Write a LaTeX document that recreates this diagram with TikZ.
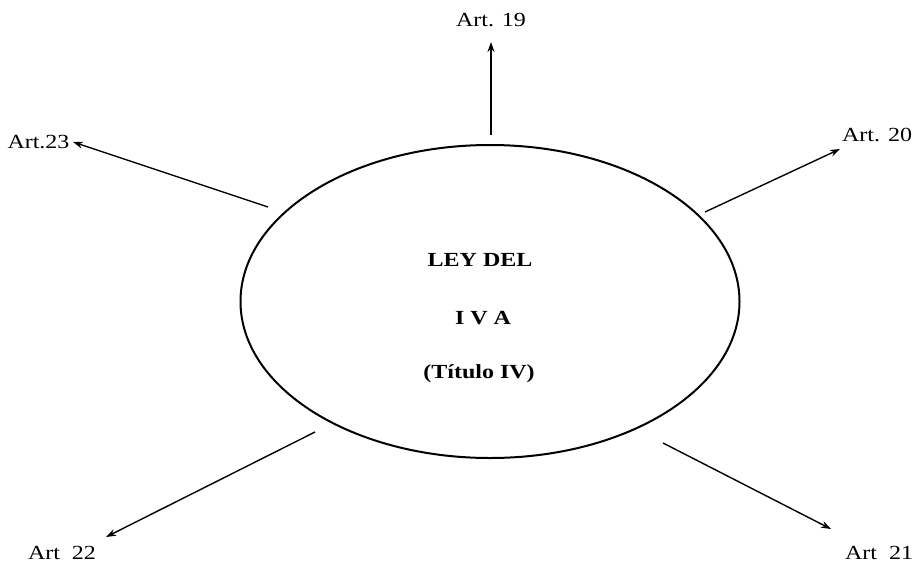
\documentclass[tikz,border=0pt]{standalone}
\usepackage{fontspec}
\setmainfont[FakeStretch=1.2]{Liberation Serif}
\usetikzlibrary{shapes.geometric,arrows.meta}
\begin{document}
\begin{tikzpicture}[x=1pt,y=-1pt,
  lbl/.style={inner sep=0pt,font=\fontsize{20pt}{24pt}\selectfont},
  bold/.style={lbl,font=\fontsize{20pt}{24pt}\selectfont\bfseries},
  conn/.style={line width=1.4pt,-{Stealth[length=10pt,width=7pt]}},
  oval/.style={ellipse,draw,line width=2pt,minimum width=499pt,minimum height=313pt,inner sep=0pt}]
\useasboundingbox (0,0) rectangle (917,562);
\node[oval] (ley) at (490,301.5) {};
\node[bold] (t1) at (480,260) {LEY DEL};
\node[bold] (t2) at (483,318) {I V A};
\node[bold] (t3) at (479,374) {(Título IV)};
\node[lbl] (a19) at (491,20) {Art. 19};
\node[lbl] (a23) at (38.5,142) {Art.23};
\node[lbl] (a20) at (877,135) {Art. 20};
\node[lbl] (a22) at (62,553) {Art\ \ 22};
\node[lbl] (a21) at (879,553) {Art\ \ 21};
\coordinate (s19) at (491,135);
\coordinate (e19) at (491,42);
\coordinate (s23) at (268,207);
\coordinate (e23) at (73,142);
\coordinate (s20) at (705,212);
\coordinate (e20) at (840,149);
\coordinate (s22) at (315,432);
\coordinate (e22) at (106,537);
\coordinate (s21) at (663,443);
\coordinate (e21) at (831,529);
\draw[conn] (s19) -- (e19);
\draw[conn] (s23) -- (e23);
\draw[conn] (s20) -- (e20);
\draw[conn] (s22) -- (e22);
\draw[conn] (s21) -- (e21);
\end{tikzpicture}
\end{document}
